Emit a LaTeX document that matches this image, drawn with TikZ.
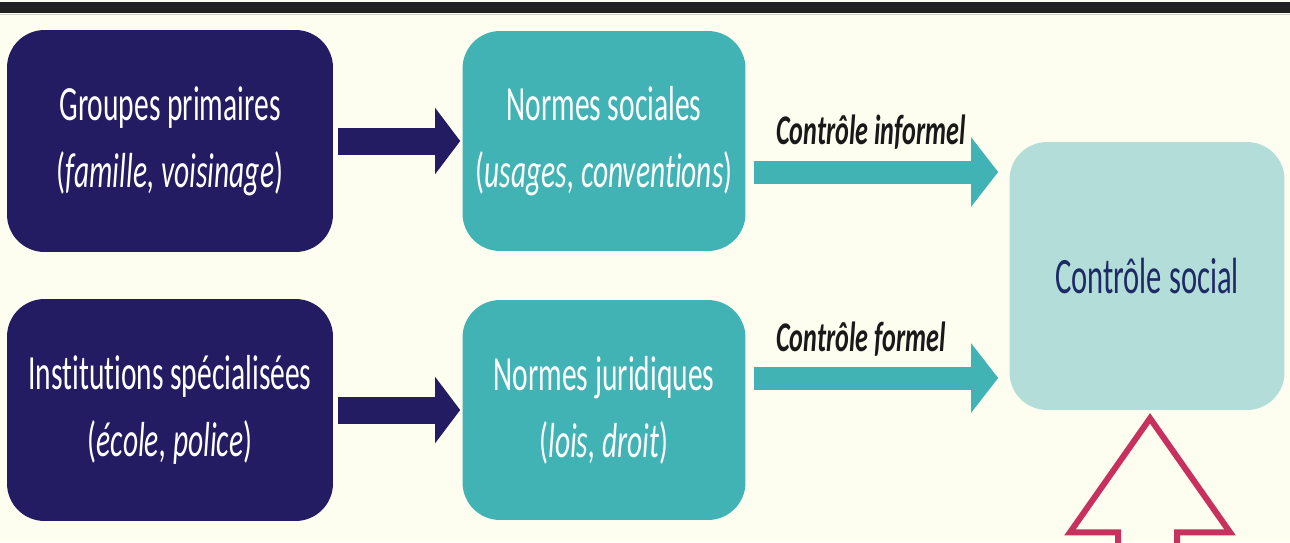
\documentclass[tikz,border=0pt]{standalone}
\usepackage{fontspec}
\newfontfamily\boxfont[FakeStretch=0.6,Ligatures=NoCommon]{Carlito}
\newfontfamily\lblfont[FakeStretch=0.62,Ligatures=NoCommon]{Carlito}
\usetikzlibrary{arrows.meta,calc}
\definecolor{cream}{HTML}{FDFEF0}
\definecolor{navy}{HTML}{241C62}
\definecolor{teal}{HTML}{42B3B5}
\definecolor{paleteal}{HTML}{B3DDD8}
\definecolor{inknavy}{HTML}{1E2A66}
\definecolor{rose}{HTML}{C8305E}
\tikzset{
  box/.style={rounded corners=0.75cm,align=center,inner sep=2pt,text=white,
    font=\boxfont\fontsize{28}{38}\selectfont},
  navybox/.style={box,fill=navy,minimum width=6.52cm,minimum height=4.44cm},
  tealbox/.style={box,fill=teal,minimum width=5.66cm,minimum height=4.4cm},
  socialbox/.style={box,fill=paleteal,text=inknavy,minimum width=5.5cm,minimum height=5.36cm,
    font=\boxfont\fontsize{29}{36}\selectfont},
  navyarrow/.style={navy,line width=0.54cm,-{Triangle[length=0.5cm,width=1.3cm]}},
  tealarrow/.style={teal,line width=0.46cm,-{Triangle[length=0.54cm,width=1.36cm]}},
  lbl/.style={inner sep=0,text=black!90,font=\lblfont\bfseries\itshape\fontsize{24}{26}\selectfont},
}
\begin{document}
\begin{tikzpicture}[x=0.02cm,y=-0.02cm]
  \clip (0,0) rectangle (1290,542);
  \fill[cream] (0,0) rectangle (1290,542);
  \fill[black!87] (0,2) rectangle (1290,13);
  \draw[gray!40,thin] (0,14) -- (1290,14);

  \node[navybox] (groupes) at (170,141) {Groupes primaires\\(\textit{famille, voisinage})};
  \node[tealbox] (sociales) at (604,141) {Normes sociales\\(\textit{usages, conventions})};
  \node[navybox] (instit) at (170,410) {Institutions spécialisées\\(\textit{école, police})};
  \node[tealbox] (jurid) at (604,410) {Normes juridiques\\(\textit{lois, droit})};
  \node[socialbox] (social) at (1147,276) {Contrôle social};

  \draw[navyarrow] ([xshift=0.1cm]groupes.east) -- ([xshift=-0.04cm]sociales.west);
  \draw[navyarrow] ([xshift=0.1cm]instit.east) -- ([xshift=-0.04cm]jurid.west);

  \draw[tealarrow] ($(sociales.east)+(8,31)$) -- ($(social.west|-sociales.east)+(-11,31)$)
    node[lbl,pos=0,anchor=south west,xshift=0.22cm,yshift=0.22cm] {Contrôle informel};
  \draw[tealarrow] ($(jurid.east)+(8,-32)$) -- ($(social.west|-jurid.east)+(-11,-32)$)
    node[lbl,pos=0,anchor=south west,xshift=0.22cm,yshift=0.2cm] {Contrôle formel};

  \coordinate (pinktip) at ($(social.south)+(3,8)$);
  \draw[rose,line width=0.12cm,miter limit=4]
    (pinktip) ++(-32,140) -- ++(0,-26) -- ++(-48,0) -- (pinktip) -- ++(80,114) -- ++(-53,0) -- ++(0,26);
\end{tikzpicture}
\end{document}
